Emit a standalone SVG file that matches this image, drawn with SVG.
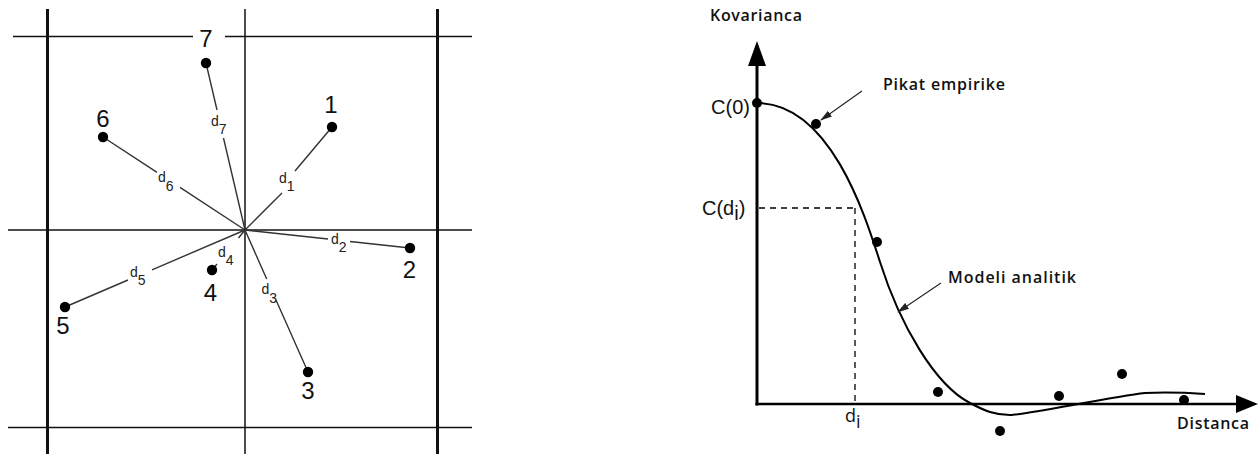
<svg xmlns="http://www.w3.org/2000/svg" width="1260" height="454" viewBox="0 0 1260 454">
<style>
.grid{stroke:#111;stroke-width:1.5;fill:none}
.thick{stroke:#111;stroke-width:3;fill:none}
.ray{stroke:#333;stroke-width:1.4;fill:none}
.dot{fill:#000}
.num{font-family:"Liberation Sans",Arial,sans-serif;font-size:24px;fill:#111;text-anchor:middle}
.dl{font-family:"Liberation Sans",Arial,sans-serif;font-size:14px;fill:#222}
.axis{stroke:#000;stroke-width:3;fill:none}
.curve{stroke:#000;stroke-width:2;fill:none}
.dash{stroke:#000;stroke-width:1.3;stroke-dasharray:6,5;fill:none}
.lbl{font-family:"Open Sans","Noto Sans",sans-serif;font-weight:600;font-size:16px;fill:#111}
.clbl{font-family:"Liberation Sans",Arial,sans-serif;font-size:20px;fill:#111}
.ptr{stroke:#222;stroke-width:1.1;fill:none;marker-end:url(#ah)}
</style>
<defs>
<marker id="ah" markerWidth="12" markerHeight="8" refX="11" refY="4" orient="auto" markerUnits="userSpaceOnUse">
<path d="M0,0.5 L12,4 L0,7.5 Z" fill="#222"/>
</marker>
</defs>
<rect width="1260" height="454" fill="#fff"/>

<g id="grid">
<line class="thick" x1="47.5" y1="9" x2="47.5" y2="454"/>
<line class="thick" x1="437.5" y1="9" x2="437.5" y2="454"/>
<line class="grid" x1="245" y1="9" x2="245" y2="454"/>
<line class="grid" x1="13" y1="36.5" x2="193" y2="36.5"/>
<line class="grid" x1="225" y1="36.5" x2="472" y2="36.5"/>
<line class="grid" x1="8" y1="230" x2="472" y2="230"/>
<line class="grid" x1="8" y1="427.5" x2="472" y2="427.5"/>
</g>

<g id="connectors">
<path class="ray" d="M245,230 L282,193 M295,171 L332,127"/>
<path class="ray" d="M245,230 L328,239 M350,241.5 L410,248"/>
<path class="ray" d="M245,230 L266.7,279 M276,300 L308,372"/>
<path class="ray" d="M245,230 L238.5,238 M217,264 L212,270"/>
<path class="ray" d="M245,230 L152,269.8 M128,280 L65,307"/>
<path class="ray" d="M245,230 L180,187.4 M157,172.4 L103,137"/>
<path class="ray" d="M245,230 L223.5,138 M217,110 L206,63"/>
<text class="dl" x="279" y="183">d<tspan dy="8">1</tspan></text>
<text class="dl" x="331" y="244">d<tspan dy="7.5">2</tspan></text>
<text class="dl" x="261.5" y="294">d<tspan dy="9">3</tspan></text>
<text class="dl" x="218" y="257">d<tspan dy="7.5">4</tspan></text>
<text class="dl" x="130" y="277">d<tspan dy="8">5</tspan></text>
<text class="dl" x="158" y="182">d<tspan dy="8.5">6</tspan></text>
<text class="dl" x="211" y="126">d<tspan dy="8">7</tspan></text>
</g>

<g id="p1"><circle class="dot" cx="332" cy="127" r="5.2"/><text class="num" x="331" y="113">1</text></g>
<g id="p2"><circle class="dot" cx="410" cy="248" r="5.2"/><text class="num" x="409.5" y="278">2</text></g>
<g id="p3"><circle class="dot" cx="308" cy="372" r="5.2"/><text class="num" x="308" y="399">3</text></g>
<g id="p4"><circle class="dot" cx="212" cy="270" r="5.2"/><text class="num" x="210.5" y="301">4</text></g>
<g id="p5"><circle class="dot" cx="65" cy="307" r="5.2"/><text class="num" x="63" y="334">5</text></g>
<g id="p6"><circle class="dot" cx="103" cy="137" r="5.2"/><text class="num" x="103" y="127">6</text></g>
<g id="p7"><circle class="dot" cx="206" cy="63" r="5.2"/><text class="num" x="206" y="47">7</text></g>

<g id="axes">
<line class="axis" x1="757" y1="60" x2="757" y2="405.5"/>
<path d="M757,41 L766,66 L748,66 Z" fill="#000"/>
<line class="axis" x1="755.5" y1="404" x2="1240" y2="404" style="stroke-width:2.5"/>
<path d="M1258,404 L1236,395 L1236,413 Z" fill="#000"/>
<text class="lbl" x="710" y="21" textLength="92">Kovarianca</text>
<text class="lbl" x="1177" y="429" textLength="72">Distanca</text>
</g>

<g id="model-curve">
<path class="curve" d="M757,103 C830,103 865,215 880,262 C900,325 935,385 970,403 C985,411 995,415 1010,415 C1025,415 1110,397 1145,393 C1170,392 1190,393 1205,394"/>
</g>

<g id="guides">
<line class="dash" x1="759" y1="208" x2="855" y2="208"/>
<line class="dash" x1="855" y1="208" x2="855" y2="404"/>
<text class="clbl" x="750" y="114" text-anchor="end">C(0)</text>
<text class="clbl" x="702" y="215">C(d<tspan dy="5">i</tspan><tspan dy="-5">)</tspan></text>
<text class="lbl" x="845" y="422" style="font-weight:400;font-size:18px">d<tspan dy="6">i</tspan></text>
</g>

<g id="empirical-points">
<circle class="dot" cx="757" cy="103" r="5"/>
<circle class="dot" cx="816" cy="124" r="5"/>
<circle class="dot" cx="877" cy="242" r="5"/>
<circle class="dot" cx="938" cy="392" r="5"/>
<circle class="dot" cx="1000" cy="431" r="5"/>
<circle class="dot" cx="1059" cy="396" r="5"/>
<circle class="dot" cx="1122" cy="374" r="5"/>
<circle class="dot" cx="1184" cy="400" r="5"/>
</g>

<g id="annotations">
<line class="ptr" x1="862" y1="91" x2="821" y2="120"/>
<text class="lbl" x="883" y="90" textLength="122">Pikat empirike</text>
<line class="ptr" x1="941" y1="283" x2="898" y2="312"/>
<text class="lbl" x="948" y="283" textLength="128">Modeli analitik</text>
</g>
</svg>
